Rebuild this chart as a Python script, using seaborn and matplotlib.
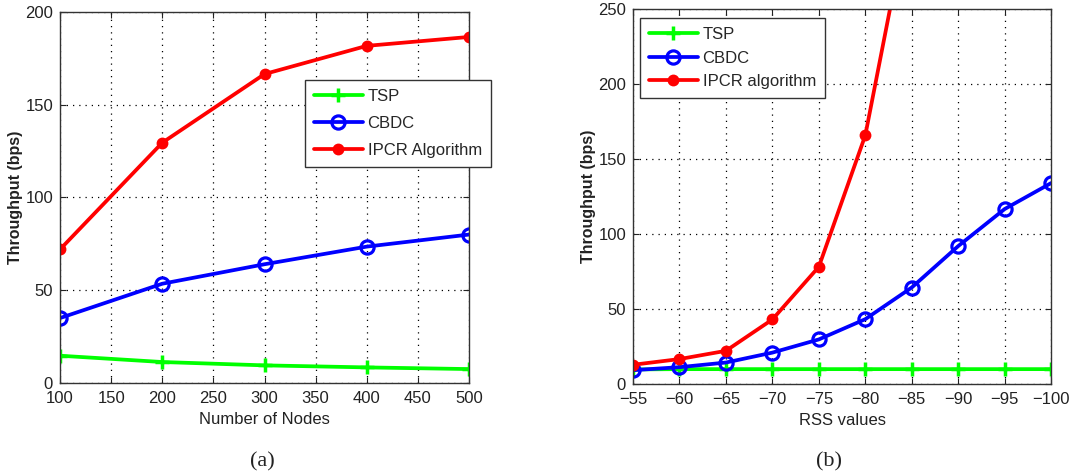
import numpy as np
import pandas as pd
import matplotlib
matplotlib.use("Agg")
import matplotlib.pyplot as plt
import seaborn as sns

# ---- data (a) ----
nodes = [100, 200, 300, 400, 500]
tsp_a = [14.7, 11.3, 9.5, 8.4, 7.5]
cbdc_a = [35, 53.5, 64, 73.5, 80]
ipcr_a = [72, 129.5, 166.5, 181.7, 186.5]

# ---- data (b) ----
rss = [-55, -60, -65, -70, -75, -80, -85, -90, -95, -100]
tsp_b = [9.8, 10, 10, 10, 10, 10, 10, 10, 10, 10]
cbdc_b = [9.3, 11.3, 14.4, 21, 29.8, 43.3, 64.4, 92, 116.7, 134]
rss_ipcr = [-55, -60, -65, -70, -75, -80, -85]
ipcr_b = [12.9, 16.7, 22.2, 43.1, 78.2, 165.8, 324]

labels_a = ["TSP", "CBDC", "IPCR Algorithm"]
labels_b = ["TSP", "CBDC", "IPCR algorithm"]

sns.set_theme(style="white")
plt.rcParams['font.family'] = ['Liberation Sans', 'DejaVu Sans']
plt.rcParams['axes.unicode_minus'] = True

fig = plt.figure(figsize=(10.72, 4.76), dpi=100)
ax1 = fig.add_axes([0.056, 0.1954, 0.3815, 0.7796])
ax2 = fig.add_axes([0.5905, 0.193, 0.3900, 0.788])

green = "#00ff00"
blue = "#0000ff"
red = "#ff0000"
lw = 2.7

def draw(ax, x_list, series, labels, xs_override=None):
    tsp, cbdc, ipcr = series
    xs_ipcr = xs_override if xs_override is not None else x_list
    sns.lineplot(x=x_list, y=tsp, ax=ax, color=green, lw=lw, marker="+",
                 markersize=10, markeredgewidth=2.5, markeredgecolor=green, label=labels[0])
    sns.lineplot(x=x_list, y=cbdc, ax=ax, color=blue, lw=lw, marker="o",
                 markersize=9.5, markeredgewidth=2.3, markerfacecolor="none",
                 markeredgecolor=blue, label=labels[1])
    sns.lineplot(x=xs_ipcr, y=ipcr, ax=ax, color=red, lw=lw, marker="o",
                 markersize=7, markeredgewidth=1.5, markerfacecolor=red,
                 markeredgecolor=red, label=labels[2])

draw(ax1, nodes, (tsp_a, cbdc_a, ipcr_a), labels_a)
draw(ax2, rss, (tsp_b, cbdc_b, ipcr_b), labels_b, xs_override=rss_ipcr)

ax1.set_xlim(100, 500)
ax1.set_ylim(0, 200)
ax1.set_xticks(np.arange(100, 501, 50))
ax1.set_yticks(np.arange(0, 201, 50))

ax2.set_xlim(-55, -100)
ax2.set_ylim(0, 250)
ax2.set_xticks(rss)
ax2.set_yticks(np.arange(0, 251, 50))

for ax, xl in ((ax1, "Number of Nodes"), (ax2, "RSS values")):
    ax.grid(True, color="black", linestyle=(0, (1, 4)), linewidth=0.9)
    ax.set_axisbelow(True)
    for s in ax.spines.values():
        s.set_color("#333333")
        s.set_linewidth(1.0)
        s.set_visible(True)
    ax.tick_params(direction="in", length=4, width=0.8, top=True, right=True,
                   bottom=True, left=True, labelsize=12, colors="#222222")
    ax.tick_params(axis="x", pad=6)
    ax.tick_params(axis="y", pad=5)
    ax.set_xlabel(xl, fontsize=12, labelpad=4, color="#222222")
    ax.set_ylabel("Throughput (bps)", fontsize=11.5, fontweight="bold",
                  labelpad=1.5, color="#222222")

leg_kw = dict(fontsize=12, frameon=True, fancybox=False, handlelength=2.9,
              borderpad=0.55, handletextpad=0.3, borderaxespad=0)
leg1 = ax1.legend(loc="upper left", bbox_to_anchor=(0.599, 0.817),
                  labelspacing=0.72, **leg_kw)
leg2 = ax2.legend(loc="upper left", bbox_to_anchor=(0.017, 0.976),
                  labelspacing=0.5, **leg_kw)
for leg in (leg1, leg2):
    leg.get_frame().set_edgecolor("#333333")
    leg.get_frame().set_linewidth(1.0)
    leg.get_frame().set_alpha(1)

fig.text(0.2445, 0.03, "(a)", ha="center", va="center", fontsize=16,
         family=["Liberation Serif", "DejaVu Serif"], color="#222222")
fig.text(0.7735, 0.03, "(b)", ha="center", va="center", fontsize=16,
         family=["Liberation Serif", "DejaVu Serif"], color="#222222")

fig.savefig("out.png", dpi=100)
